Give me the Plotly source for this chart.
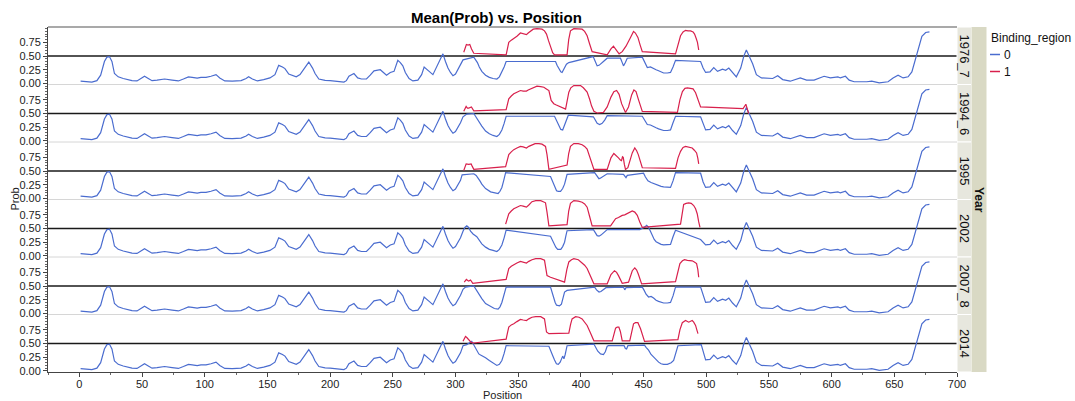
import plotly.graph_objects as go

YEARS = ["1976_7", "1994_6", "1995", "2002", "2007_8", "2014"]

# Binding_region 0 curve, shared part before the binding area
BASE_LEFT_POS = [1, 5, 10, 14, 17, 20, 22, 24, 26, 28, 31, 35, 38, 42, 46, 49, 52, 55, 58, 62,
                 68, 74, 79, 83, 87, 90, 94, 97, 101, 105, 109, 112, 116, 122, 129, 133, 135, 138,
                 142, 147, 152, 156, 159, 162, 164, 167, 170, 173, 176, 179, 183, 186, 188, 191,
                 196, 200, 205, 211, 213, 215, 219, 222, 225, 229, 232, 235, 240, 243, 245, 248,
                 251, 254, 256, 258, 260, 263, 266, 270, 273, 275, 277, 279, 282, 284, 286, 289,
                 290, 292, 294, 296, 298, 300, 302, 304]
BASE_LEFT_PROB = [0.04, 0.035, 0.025, 0.05, 0.15, 0.40, 0.48, 0.49, 0.40, 0.18, 0.12, 0.09, 0.07,
                  0.05, 0.045, 0.08, 0.13, 0.09, 0.05, 0.06, 0.08, 0.06, 0.045, 0.08, 0.12, 0.11,
                  0.095, 0.11, 0.11, 0.13, 0.16, 0.10, 0.045, 0.04, 0.05, 0.09, 0.12, 0.08, 0.045,
                  0.07, 0.10, 0.16, 0.33, 0.30, 0.27, 0.17, 0.15, 0.12, 0.16, 0.25, 0.39, 0.28,
                  0.18, 0.08, 0.055, 0.05, 0.04, 0.025, 0.05, 0.13, 0.18, 0.10, 0.08, 0.08, 0.15,
                  0.23, 0.25, 0.20, 0.15, 0.20, 0.22, 0.42, 0.38, 0.32, 0.20, 0.09, 0.045, 0.06,
                  0.16, 0.30, 0.25, 0.22, 0.16, 0.25, 0.35, 0.50, 0.54, 0.40, 0.28, 0.20, 0.14,
                  0.17, 0.25, 0.33]

# Binding_region 0 curve, shared part after the binding area
BASE_RIGHT_POS = [499.5, 503, 506, 509, 513, 515.5, 518, 521, 524, 527.5, 530, 532, 534, 537, 540,
                  544, 553, 557, 561, 567, 575, 580, 586, 594, 599, 605, 607, 611, 614, 618, 628,
                  632, 638, 645, 649, 653, 657, 661, 664, 668, 672, 675, 678]
BASE_RIGHT_PROB = [0.20, 0.21, 0.29, 0.22, 0.26, 0.24, 0.28, 0.19, 0.12, 0.28, 0.50, 0.61, 0.52,
                   0.36, 0.16, 0.10, 0.09, 0.14, 0.07, 0.04, 0.10, 0.06, 0.06, 0.13, 0.10, 0.12,
                   0.10, 0.13, 0.06, 0.03, 0.03, 0.04, 0.01, 0.03, 0.10, 0.15, 0.10, 0.12, 0.21,
                   0.55, 0.86, 0.93, 0.94]

# Binding_region 0, per-year middle part
BLUE_MID_POS = {
    "1976_7": [306, 314.6, 316, 317.5, 319, 321, 324, 327, 330, 333, 335, 337, 338.8, 340.4,
               379.8, 381, 382.4, 384, 385, 386.5, 388.5, 390.4,
               409.8, 411.5, 413, 414.5, 415.7, 418, 421,
               431.6, 433, 434, 435.5, 437,
               449, 451, 453, 455.5, 458, 460, 462, 464, 466, 469, 471.5, 473.5, 475.5,
               495.5, 497.5],
    "1994_6": [306, 309, 314.6, 316, 317.5, 319, 321, 324, 327, 330, 333, 335, 337, 338.8, 340.4,
               379, 380.5, 382, 384, 385.5, 387, 389, 390,
               410, 411.5, 413, 415, 417, 419, 421,
               449, 451, 453, 455.5, 458, 460, 462, 464, 466, 469, 471.5, 473.5, 475.5,
               495.5, 497.5],
    "1995": [305.3, 314.6, 316.5, 318, 319.5, 321, 324, 328, 331, 334, 335.5, 337, 338.5, 340,
             375.8, 377, 378, 379.5, 380.6, 382, 383.8, 385.5, 387, 388, 389,
             411, 412.5, 414.4, 415.5, 417, 419, 421,
             434, 435, 436, 437,
             450, 451.5, 453.5, 456, 458, 460, 462, 464, 466, 469, 471.5, 473.5, 475.5,
             495.5, 497.5],
    "2002": [306, 307.5, 309, 310.5, 312, 314, 317, 319, 321, 324, 327, 330, 333, 335, 337, 338.8,
             340.4,
             375.8, 377, 378.4, 380, 381.5, 384, 385.5, 387, 388, 389,
             410, 411.5, 413, 414.5, 416, 418.5, 421,
             447, 449, 451, 452.5, 454, 455.5, 457, 458.5, 460, 462, 464, 466, 469, 471.5,
             473.5, 475.5,
             495.5, 497.5],
    "2007_8": [306, 308, 314.6, 316, 317.5, 319, 321, 324, 328, 331, 334, 335.5, 337, 338.8, 340.4,
               375.8, 377, 378.4, 379.5, 380.6, 383, 384.5, 386, 387, 389,
               411, 412.5, 414.5, 416, 418, 420,
               434, 435, 436,
               449, 450.5, 452, 454, 456, 458, 460, 462, 464, 466, 469, 471.5, 473.5, 475.5,
               495.5, 497.5],
    "2014": [306, 309, 313, 314.5, 316, 318.6, 320, 322, 324, 327, 330, 333, 335, 337, 338.8, 340.4,
             374.5, 376, 377.5, 379, 380.5, 382, 383.5, 385.5, 386.5, 387.5, 389,
             410.4, 412, 413.5, 415.7, 418, 419.5, 421, 422,
             434.5, 435.5, 436.5, 437.5,
             450.8, 452, 454, 456, 458, 460, 462, 464, 466, 469, 472, 474, 475.5, 477.4,
             496, 497.5],
}
BLUE_MID_PROB = {
    "1976_7": [0.43, 0.48, 0.44, 0.38, 0.30, 0.22, 0.15, 0.11, 0.09, 0.08, 0.12, 0.20, 0.30, 0.40,
               0.40, 0.33, 0.26, 0.21, 0.20, 0.27, 0.35, 0.38,
               0.49, 0.40, 0.32, 0.33, 0.35, 0.40, 0.46,
               0.46, 0.38, 0.32, 0.38, 0.46,
               0.48, 0.38, 0.29, 0.30, 0.28, 0.25, 0.23, 0.21, 0.19, 0.19, 0.20, 0.30, 0.42,
               0.40, 0.28],
    "1994_6": [0.44, 0.49, 0.50, 0.45, 0.40, 0.33, 0.27, 0.18, 0.13, 0.10, 0.08, 0.12, 0.20, 0.32,
               0.45,
               0.45, 0.38, 0.28, 0.21, 0.20, 0.28, 0.42, 0.47,
               0.44, 0.38, 0.32, 0.30, 0.32, 0.38, 0.46,
               0.45, 0.37, 0.30, 0.29, 0.27, 0.24, 0.22, 0.20, 0.19, 0.19, 0.20, 0.33, 0.45,
               0.44, 0.30],
    "1995": [0.43, 0.45, 0.42, 0.38, 0.32, 0.26, 0.18, 0.12, 0.10, 0.09, 0.13, 0.20, 0.33, 0.47,
             0.40, 0.33, 0.26, 0.19, 0.14, 0.13, 0.13, 0.18, 0.26, 0.35, 0.44,
             0.47, 0.41, 0.36, 0.37, 0.39, 0.42, 0.45,
             0.44, 0.40, 0.38, 0.42,
             0.46, 0.39, 0.32, 0.29, 0.27, 0.25, 0.23, 0.22, 0.21, 0.20, 0.20, 0.32, 0.47,
             0.46, 0.30],
    "2002": [0.45, 0.52, 0.55, 0.52, 0.45, 0.40, 0.35, 0.28, 0.22, 0.16, 0.12, 0.10, 0.08, 0.12,
             0.20, 0.33, 0.47,
             0.36, 0.30, 0.24, 0.16, 0.12, 0.12, 0.17, 0.25, 0.36, 0.46,
             0.48, 0.42, 0.37, 0.36, 0.38, 0.43, 0.48,
             0.48, 0.50, 0.53, 0.56, 0.52, 0.45, 0.36, 0.30, 0.26, 0.23, 0.21, 0.20, 0.20, 0.21,
             0.35, 0.47,
             0.30, 0.25],
    "2007_8": [0.44, 0.48, 0.50, 0.45, 0.39, 0.32, 0.27, 0.18, 0.12, 0.09, 0.08, 0.12, 0.20, 0.33,
               0.48,
               0.48, 0.38, 0.27, 0.20, 0.15, 0.14, 0.17, 0.28, 0.39, 0.42,
               0.48, 0.43, 0.39, 0.40, 0.44, 0.47,
               0.48, 0.43, 0.47,
               0.48, 0.42, 0.35, 0.30, 0.31, 0.28, 0.24, 0.22, 0.21, 0.19, 0.19, 0.20, 0.32, 0.48,
               0.48, 0.32],
    "2014": [0.46, 0.48, 0.54, 0.48, 0.40, 0.31, 0.29, 0.27, 0.24, 0.19, 0.14, 0.10, 0.12, 0.19,
             0.32, 0.46,
             0.45, 0.38, 0.28, 0.20, 0.13, 0.12, 0.16, 0.27, 0.22, 0.30, 0.46,
             0.49, 0.42, 0.36, 0.31, 0.30, 0.35, 0.45, 0.46,
             0.46, 0.41, 0.40, 0.46,
             0.47, 0.43, 0.38, 0.30, 0.25, 0.20, 0.16, 0.13, 0.12, 0.12, 0.15, 0.19, 0.32, 0.46,
             0.48, 0.35],
}

# Binding_region 1
RED_POS = {
    "1976_7": [306.6, 307.8, 308.7, 310, 311.4, 312.8, 314.6,
               340.4, 341.5, 342.5, 344.5, 346.5, 349, 351.8, 354, 356.6, 358, 359.8, 362, 365, 369,
               371, 372.6, 374.2, 375.8, 377.5, 379,
               389, 390.3, 391.7, 394.4, 398, 401, 403, 405, 407, 409,
               421, 422.5, 424, 426, 427.5, 429, 430.5, 433, 436, 439.6, 442, 443.5, 445.5, 447.3,
               449,
               475.5, 477.5, 479.5, 481.5, 483.5, 485.5, 487.5, 489.5, 490.7, 492, 493, 494],
    "1994_6": [306.6, 307.5, 308.5, 309.5, 310.6, 312.7, 314.6,
               340.4, 341.5, 342.5, 344.5, 346.5, 349, 351.8, 354, 356.6, 358, 359.8, 362, 365, 368,
               370.5, 372.5, 374.5, 375.5, 376.3, 378.4, 380, 387.8,
               389, 390.4, 392, 394.4, 397, 399.7, 402, 405, 407, 408.5, 410.4, 413,
               418, 421, 424, 426.3, 428.5, 430.5, 432.5, 435.6, 438, 440.5, 442.3, 444, 446, 449,
               477, 479, 481, 483, 485, 487.5, 489.5, 491.5, 493, 494.5, 495.5,
               529.4, 531.6, 533.8],
    "1995": [306.6, 307.5, 308.5, 310.6, 312.5, 313.5, 314.6,
             340, 341.3, 342.5, 344.5, 346.5, 349, 351.8, 354, 356.6, 358.5, 361, 363.5, 366.5, 369,
             371.8, 373, 374.5,
             389, 390.3, 391.7, 394.4, 398, 401, 403, 405, 407.5, 410.4,
             421, 422.5, 424, 426.3, 428, 430, 431.5, 432.4, 433.2, 433.8, 434.7, 435.6, 437.5,
             439.3, 441, 443, 444.5, 445.8, 447.5, 449,
             475.5, 477.5, 479.5, 481.5, 483.5, 486, 488.8, 490.5, 492.3, 493.3, 494],
    "2002": [340, 341.3, 342.5, 344.5, 346.5, 349, 351.8, 354, 356.6, 358.5, 361, 364, 368, 370,
             371.8, 373, 374.5,
             389, 390.3, 391.7, 394.4, 398, 401, 403, 405, 407, 409,
             423.7, 425.5, 427.7, 430, 433, 435, 437, 439, 441, 443, 445, 447, 449,
             479.5, 480.8, 482, 484, 486, 488, 490, 491.5, 492.8, 494, 495],
    "2007_8": [307, 308, 308.7, 309.7, 310.6, 312, 313.8,
               340.4, 341.5, 342.5, 344.5, 346.5, 349, 351.8, 354, 356.6, 358.5, 361, 364, 368, 371,
               372, 373, 375.8,
               387, 388.8, 390.4, 392.5, 394.4, 398, 401, 403, 405, 407.5, 410.4,
               421, 422.5, 424, 426.8, 428.5, 430, 431.5, 433, 438, 439.5, 441, 443, 444.5, 445.8,
               447, 448.5,
               475.5, 477, 479, 481, 482.7, 485, 488.8, 490.5, 492.3, 493.3, 494],
    "2014": [306, 307, 308, 309, 310, 311, 312.5, 314.6,
             340.4, 341.5, 342.5, 344.5, 346.5, 349, 351.8, 354, 356.6, 358.5, 361, 364, 368, 371,
             372.6, 374.5,
             390.4, 391.8, 393, 395.8, 398.5, 401, 403, 405, 407.5, 410.4,
             425, 426.3, 427.7, 429, 430.3, 431.5, 433, 439, 440.5, 442, 443.5, 445.5, 447.6,
             449.2, 450.8,
             477.4, 479, 480.9, 483.5, 486, 488.8, 490, 491.5, 492.5, 493.4],
}
RED_PROB = {
    "1976_7": [0.57, 0.66, 0.71, 0.70, 0.71, 0.63, 0.55,
               0.52, 0.64, 0.75, 0.79, 0.82, 0.86, 0.92, 0.91, 0.89, 0.92, 0.96, 0.99, 1.0, 0.99,
               0.96, 0.90, 0.78, 0.66, 0.56, 0.52,
               0.52, 0.80, 0.96, 1.0, 1.0, 0.99, 0.95, 0.87, 0.72, 0.58,
               0.52, 0.58, 0.63, 0.68, 0.63, 0.57, 0.54, 0.58, 0.68, 0.84, 0.95, 0.92, 0.84, 0.70,
               0.58,
               0.54, 0.72, 0.87, 0.94, 0.97, 0.96, 0.96, 0.94, 0.90, 0.82, 0.75, 0.61],
    "1994_6": [0.54, 0.60, 0.63, 0.60, 0.60, 0.62, 0.55,
               0.57, 0.68, 0.77, 0.82, 0.86, 0.89, 0.92, 0.91, 0.91, 0.93, 0.95, 0.98, 1.0, 0.99,
               0.98, 0.95, 0.92, 0.82, 0.74, 0.68, 0.66, 0.58,
               0.72, 0.89, 0.97, 1.01, 1.01, 1.01, 0.97, 0.89, 0.76, 0.64, 0.54, 0.51,
               0.52, 0.62, 0.80, 0.90, 0.92, 0.85, 0.68, 0.52, 0.62, 0.84, 0.93, 0.90, 0.75, 0.54,
               0.52, 0.75, 0.90, 0.96, 0.97, 0.96, 0.95, 0.88, 0.78, 0.66, 0.62,
               0.59, 0.67, 0.50],
    "1995": [0.51, 0.58, 0.63, 0.62, 0.63, 0.58, 0.53,
             0.58, 0.70, 0.80, 0.85, 0.89, 0.92, 0.95, 0.94, 0.92, 0.95, 0.98, 1.0, 1.0, 0.99,
             0.95, 0.80, 0.53,
             0.61, 0.82, 0.95, 1.0, 1.0, 0.98, 0.95, 0.90, 0.72, 0.53,
             0.53, 0.65, 0.74, 0.82, 0.79, 0.74, 0.70, 0.69, 0.76, 0.75, 0.62, 0.53, 0.56,
             0.70, 0.83, 0.92, 0.87, 0.80, 0.66, 0.56,
             0.55, 0.74, 0.86, 0.93, 0.95, 0.94, 0.92, 0.88, 0.83, 0.73, 0.63],
    "2002": [0.58, 0.70, 0.77, 0.82, 0.86, 0.89, 0.92, 0.91, 0.89, 0.93, 0.99, 1.01, 1.01, 0.99,
             0.97, 0.80, 0.55,
             0.57, 0.82, 0.96, 1.01, 1.0, 0.98, 0.95, 0.89, 0.72, 0.55,
             0.55, 0.62, 0.68, 0.70, 0.74, 0.75, 0.77, 0.79, 0.82, 0.80, 0.74, 0.62, 0.52,
             0.58, 0.80, 0.94, 0.96, 0.97, 0.96, 0.92, 0.86, 0.77, 0.62, 0.52],
    "2007_8": [0.57, 0.60, 0.62, 0.60, 0.59, 0.61, 0.55,
               0.62, 0.74, 0.82, 0.86, 0.89, 0.92, 0.95, 0.94, 0.92, 0.95, 0.98, 1.0, 1.0, 0.97,
               0.85, 0.69, 0.66,
               0.57, 0.80, 0.94, 0.98, 1.0, 0.98, 0.93, 0.88, 0.82, 0.68, 0.54,
               0.54, 0.63, 0.71, 0.78, 0.75, 0.69, 0.61, 0.55, 0.57, 0.68, 0.78, 0.83, 0.79, 0.72,
               0.62, 0.54,
               0.58, 0.75, 0.91, 0.96, 0.98, 0.97, 0.96, 0.94, 0.91, 0.80, 0.66],
    "2014": [0.54, 0.59, 0.63, 0.61, 0.58, 0.56, 0.52, 0.51,
             0.58, 0.70, 0.80, 0.84, 0.86, 0.90, 0.94, 0.93, 0.92, 0.95, 0.98, 0.99, 0.99, 0.95,
             0.71, 0.68,
             0.69, 0.85, 0.95, 0.99, 0.98, 0.95, 0.90, 0.83, 0.70, 0.55,
             0.55, 0.68, 0.78, 0.80, 0.80, 0.72, 0.55, 0.55, 0.72, 0.86, 0.88, 0.88, 0.77,
             0.64, 0.54,
             0.57, 0.75, 0.88, 0.92, 0.89, 0.92, 0.89, 0.83, 0.75, 0.68],
}

X_TICKS = list(range(0, 701, 50))
Y_TICKS = [0, 0.25, 0.5, 0.75]
Y_TICK_TEXT = ["0.00", "0.25", "0.50", "0.75"]

BLUE = "#4a6ccf"
RED = "#d8204c"
FONT = "Liberation Sans, Arial, Helvetica, sans-serif"

W, H = 1075, 401
L, R, T, B = 48, 118, 27, 29
PW = W - L - R
PH = H - T - B
N = len(YEARS)


def px_x(px):
    return (px - L) / PW


def px_y(py):
    return (H - B - py) / PH


fig = go.Figure()
layout = dict(
    template="none",
    width=W, height=H,
    margin=dict(l=L, r=R, t=T, b=B, pad=0, autoexpand=False),
    paper_bgcolor="white", plot_bgcolor="white",
    showlegend=False,
    font=dict(family=FONT, size=11, color="#222"),
    hovermode=False,
)

shapes = []
annotations = []

for i, yr in enumerate(YEARS):
    suf = "" if i == 0 else str(i + 1)
    yname = "y" + suf
    bx = BASE_LEFT_POS + BLUE_MID_POS[yr] + BASE_RIGHT_POS
    by = BASE_LEFT_PROB + BLUE_MID_PROB[yr] + BASE_RIGHT_PROB
    fig.add_trace(go.Scatter(x=bx, y=by, mode="lines", xaxis="x", yaxis=yname,
                             line=dict(color=BLUE, width=1.2), name="0"))
    fig.add_trace(go.Scatter(x=RED_POS[yr], y=RED_PROB[yr], mode="lines", xaxis="x", yaxis=yname,
                             line=dict(color=RED, width=1.2), name="1"))
    d0 = 1 - (i + 1) / N
    d1 = 1 - i / N
    layout["yaxis" + suf] = dict(
        domain=[d0, d1], anchor="x", range=[-0.02, 1.03], automargin=False,
        tickmode="array", tickvals=Y_TICKS, ticktext=Y_TICK_TEXT,
        ticks="outside", ticklen=4, tickwidth=1, tickcolor="#444",
        minor=dict(tickmode="linear", tick0=0, dtick=0.05, ticks="outside", ticklen=2,
                   tickcolor="#666", tickwidth=1, showgrid=False),
        showline=True, linecolor="#444", linewidth=1,
        showgrid=False, zeroline=False, fixedrange=True,
        tickfont=dict(size=11, color="#222", family=FONT),
    )
    # reference line at 0.5
    shapes.append(dict(type="line", xref="paper", x0=0, x1=1, yref=yname, y0=0.5, y1=0.5,
                       line=dict(color="#1a1a1a", width=1.3), layer="below"))
    # strip cell
    shapes.append(dict(type="rect", xref="paper", x0=1, x1=px_x(971.5), yref="paper",
                       y0=d0, y1=d1, fillcolor="#e7e7de", line=dict(color="white", width=1),
                       layer="below"))
    annotations.append(dict(text=yr, xref="paper", yref="paper", x=px_x(964.3),
                            y=(d0 + d1) / 2, textangle=90, showarrow=False,
                            font=dict(size=13, color="#111", family=FONT),
                            xanchor="center", yanchor="middle"))
    if i > 0:
        shapes.append(dict(type="line", xref="paper", x0=0, x1=1, yref="paper", y0=d1, y1=d1,
                           line=dict(color="#d6d6d6", width=1)))

# top border
shapes.append(dict(type="line", xref="paper", x0=0, x1=1, yref="paper", y0=1, y1=1,
                   line=dict(color="#555", width=1.2)))
# group strip
shapes.append(dict(type="rect", xref="paper", x0=px_x(971.5), x1=px_x(986.5), yref="paper",
                   y0=0, y1=1, fillcolor="#d9d9c4", line=dict(width=0), layer="below"))
annotations.append(dict(text="<b>Year</b>", xref="paper", yref="paper", x=px_x(979.5), y=0.5,
                        textangle=90, showarrow=False,
                        font=dict(size=12, color="#111", family=FONT),
                        xanchor="center", yanchor="middle"))

# title and axis titles
annotations.append(dict(text="<b>Mean(Prob) vs. Position</b>", xref="paper", yref="paper",
                        x=px_x(496), y=px_y(17), showarrow=False,
                        font=dict(size=15, color="#000", family=FONT),
                        xanchor="center", yanchor="middle"))
annotations.append(dict(text="Prob", xref="paper", yref="paper", x=px_x(14), y=0.5,
                        textangle=-90, showarrow=False,
                        font=dict(size=11, color="#222", family=FONT),
                        xanchor="center", yanchor="middle"))
annotations.append(dict(text="Position", xref="paper", yref="paper", x=0.5, y=px_y(394.5),
                        showarrow=False, font=dict(size=11, color="#222", family=FONT),
                        xanchor="center", yanchor="middle"))

# legend
annotations.append(dict(text="Binding_region", xref="paper", yref="paper", x=px_x(988.5),
                        y=px_y(38), showarrow=False, xanchor="left", yanchor="middle",
                        font=dict(size=12, color="#111", family=FONT)))
for k, (lab, col) in enumerate([("0", BLUE), ("1", RED)]):
    yy = px_y(54.5 + 17 * k)
    shapes.append(dict(type="line", xref="paper", yref="paper", x0=px_x(990), x1=px_x(1000),
                       y0=yy, y1=yy, line=dict(color=col, width=1.5)))
    annotations.append(dict(text=lab, xref="paper", yref="paper", x=px_x(1001.5), y=yy,
                            showarrow=False, xanchor="left", yanchor="middle",
                            font=dict(size=12, color="#111", family=FONT)))

layout["xaxis"] = dict(
    domain=[0, 1], anchor="y" + str(N), range=[-25, 700], automargin=False,
    tickmode="array", tickvals=X_TICKS,
    ticks="outside", ticklen=4, tickcolor="#444", ticklabelstandoff=-2,
    minor=dict(tickmode="linear", tick0=0, dtick=25, ticks="outside", ticklen=2,
               tickcolor="#666", showgrid=False),
    showline=True, linecolor="#444", linewidth=1,
    showgrid=False, zeroline=False, fixedrange=True,
    tickfont=dict(size=11, color="#222", family=FONT),
)
layout["shapes"] = shapes
layout["annotations"] = annotations
fig.update_layout(**layout)

fig.write_html(
    "out.html",
    config={"displayModeBar": False},
    post_script="document.body.style.margin='0';document.body.style.overflow='hidden';",
)
